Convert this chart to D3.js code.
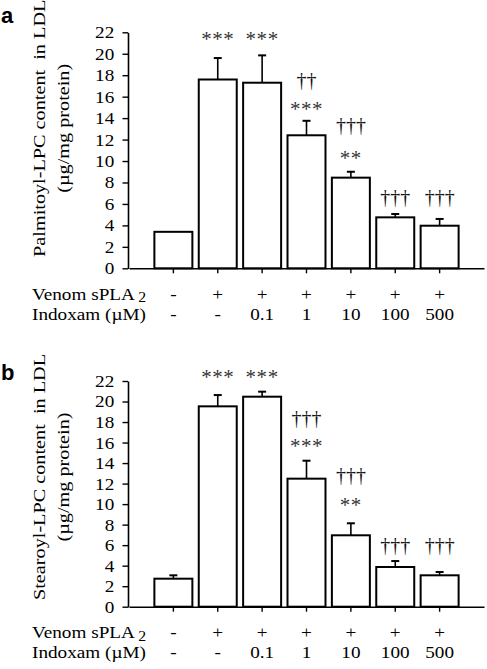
<!DOCTYPE html>
<html><head><meta charset="utf-8">
<script src="https://cdn.jsdelivr.net/npm/d3@7"></script>
<style>body{margin:0;background:#fff}svg{display:block}text{-webkit-font-smoothing:antialiased}</style>
</head><body>
<svg id="chart" width="487" height="669"></svg>
<script>
// ---- data ----
const conditions = ["ctrl","venom","ind0.1","ind1","ind10","ind100","ind500"];
const venomRow = ["-","+","+","+","+","+","+"];
const indoxamRow = ["-","-","0.1","1","10","100","500"];
const yTicks = [0,2,4,6,8,10,12,14,16,18,20,22];

const palmitoylMean = [3.4, 17.6, 17.3, 12.4, 8.45, 4.75, 3.97];
const palmitoylSem  = [0, 2.0, 2.55, 1.35, 0.55, 0.31, 0.63];
const palmitoylStars   = ["", "***", "***", "***", "**", "", ""];
const palmitoylDaggers = ["", "", "", "††", "†††", "†††", "†††"];
const palmitoylStarLevel   = [null, 21.6, 21.6, 15.1, 10.56, null, null];
const palmitoylDaggerLevel = [null, null, null, 17.4, 13.2, 6.52, 6.52];

const stearoylMean = [2.73, 19.53, 20.47, 12.48, 6.96, 3.87, 3.06];
const stearoylSem  = [0.33, 1.1, 0.49, 1.75, 1.17, 0.58, 0.32];
const stearoylStars   = ["", "***", "***", "***", "**", "", ""];
const stearoylDaggers = ["", "", "", "†††", "†††", "†††", "†††"];
const stearoylStarLevel   = [null, 22.6, 22.6, 15.86, 10.14, null, null];
const stearoylDaggerLevel = [null, null, null, 18.2, 12.67, 5.85, 5.85];

// ---- drawing ----
const svg = d3.select("#chart");
const SERIF = "'Liberation Serif','Times New Roman',serif";
const FS = 17, STRETCH = 1.13;
const axisX = 128;

const x = d3.scaleBand().domain(conditions).range([129, 484]).paddingInner(0.144).paddingOuter(0.572);

function panel(o) {
  const g = svg.append("g");
  const y = d3.scaleLinear().domain([0, 22]).range([o.y0, o.y22]);

  // bars
  g.selectAll("rect.bar").data(o.mean).join("rect")
    .attr("x", (d, i) => x(conditions[i]))
    .attr("width", x.bandwidth())
    .attr("y", d => y(d))
    .attr("height", d => y(0) - y(d))
    .attr("fill", "#fff").attr("stroke", "#000").attr("stroke-width", 2);

  // error bars
  const eb = o.mean.map((m, i) => ({m, s: o.sem[i], c: x(conditions[i]) + x.bandwidth() / 2})).filter(d => d.s > 0);
  g.selectAll("line.eb").data(eb).join("line")
    .attr("x1", d => d.c).attr("x2", d => d.c)
    .attr("y1", d => y(d.m)).attr("y2", d => y(d.m + d.s))
    .attr("stroke", "#000").attr("stroke-width", 1.6);
  g.selectAll("line.cap").data(eb).join("line")
    .attr("x1", d => d.c - 4).attr("x2", d => d.c + 4)
    .attr("y1", d => y(d.m + d.s)).attr("y2", d => y(d.m + d.s))
    .attr("stroke", "#000").attr("stroke-width", 2);

  // y axis
  const ya = g.append("g").attr("transform", `translate(${axisX},0)`)
    .call(d3.axisLeft(y).tickValues(yTicks).tickSize(5.5).tickSizeOuter(0).tickPadding(8));
  ya.select(".domain").attr("stroke-width", 1.6);
  ya.selectAll(".tick line").attr("stroke-width", 1.4);
  ya.selectAll("text").attr("font-family", SERIF).attr("font-size", FS).attr("fill", "#000")
    .attr("x", -13.7 / STRETCH).attr("transform", `scale(${STRETCH},1)`);

  // x axis
  const xa = g.append("g").attr("transform", `translate(0,${o.y0})`)
    .call(d3.axisBottom(x).tickSize(5).tickSizeOuter(0).tickFormat(""));
  xa.select(".domain").attr("stroke-width", 1.6);
  xa.selectAll(".tick line").attr("stroke-width", 1.4);
  svg.append("line").attr("x1", axisX).attr("x2", 129).attr("y1", o.y0).attr("y2", o.y0).attr("stroke", "#000").attr("stroke-width", 1.6);

  // significance marks
  conditions.forEach((c, i) => {
    const cx = x(c) + x.bandwidth() / 2;
    if (o.stars[i]) {
      g.append("text").attr("transform", `translate(${cx},${y(o.starLevel[i]) + 9.5}) scale(1.05,1)`)
        .attr("text-anchor", "middle").attr("font-family", SERIF).attr("font-size", 20)
        .attr("fill", "#333").attr("letter-spacing", 0.5).text(o.stars[i]);
    }
    if (o.daggers[i]) {
      g.append("text").attr("transform", `translate(${cx},${y(o.daggerLevel[i]) + 5.5}) rotate(0.01)`)
        .attr("text-anchor", "middle").attr("font-family", SERIF).attr("font-size", 20)
        .attr("fill", "#111").attr("opacity", 0.98).text(o.daggers[i]);
    }
  });

  // category rows
  const r1 = o.y0 + 31.5, r2 = o.y0 + 51.3;
  const t1 = g.append("text").attr("transform", `translate(32,${r1}) scale(${STRETCH},1)`)
    .attr("font-family", SERIF).attr("font-size", FS);
  t1.append("tspan").text("Venom sPLA");
  t1.append("tspan").attr("dx", 3).attr("dy", 2.5).attr("font-size", 14).text("2");
  g.append("text").attr("transform", `translate(32,${r2}) scale(${STRETCH},1)`)
    .attr("font-family", SERIF).attr("font-size", FS).text("Indoxam (µM)");
  conditions.forEach((c, i) => {
    const cx = x(c) + x.bandwidth() / 2;
    g.append("text").attr("transform", `translate(${cx},${r1}) scale(${STRETCH},1)`)
      .attr("text-anchor", "middle").attr("font-family", SERIF).attr("font-size", FS).text(venomRow[i]);
    g.append("text").attr("transform", `translate(${cx},${r2}) scale(${STRETCH},1)`)
      .attr("text-anchor", "middle").attr("font-family", SERIF).attr("font-size", FS).text(indoxamRow[i]);
  });

  // y label
  const cy = o.y22 + 96;
  g.append("text").attr("transform", `translate(44.5,${cy}) rotate(-90) scale(1.17,1)`)
    .attr("text-anchor", "middle").attr("font-family", SERIF).attr("font-size", 17.3)
    .attr("xml:space", "preserve").style("white-space", "pre").text(o.ylabel);
  g.append("text").attr("transform", `translate(69,${cy}) rotate(-90) scale(1.17,1)`)
    .attr("text-anchor", "middle").attr("font-family", SERIF).attr("font-size", 17.3)
    .text("(µg/mg protein)");

  // panel letter
  g.append("text").attr("x", 1).attr("y", o.letterY)
    .attr("font-family", "'Liberation Sans',Arial,sans-serif").attr("font-weight", "bold")
    .attr("font-size", 22).text(o.letter);
}

panel({y0: 268.3, y22: 32.3, mean: palmitoylMean, sem: palmitoylSem,
  stars: palmitoylStars, daggers: palmitoylDaggers, starLevel: palmitoylStarLevel, daggerLevel: palmitoylDaggerLevel,
  ylabel: "Palmitoyl-LPC content  in LDL", letter: "a", letterY: 23});
panel({y0: 606.7, y22: 381, mean: stearoylMean, sem: stearoylSem,
  stars: stearoylStars, daggers: stearoylDaggers, starLevel: stearoylStarLevel, daggerLevel: stearoylDaggerLevel,
  ylabel: "Stearoyl-LPC content  in LDL", letter: "b", letterY: 380});
</script>
</body></html>
